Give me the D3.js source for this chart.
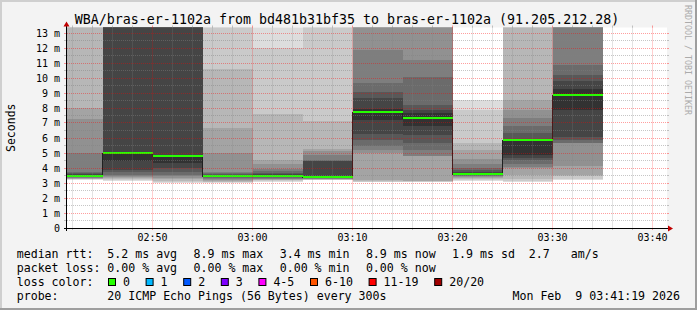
<!DOCTYPE html>
<html>
<head>
<meta charset="utf-8">
<script src="https://cdn.jsdelivr.net/npm/d3@7"></script>
<style>
  html, body { margin: 0; padding: 0; background: #f3f3f3; }
  svg { display: block; }
  text { font-family: "DejaVu Sans Mono", monospace; fill: #000; }
</style>
</head>
<body>
<svg id="chart" width="697" height="310"></svg>
<script>
var title = 'WBA/bras-er-1102a from bd481b31bf35 to bras-er-1102a (91.205.212.28)';
var yLabel = 'Seconds';
var watermark = 'RRDTOOL / TOBI OETIKER';

// end of each 300s step (HH:MM, Feb 9 2026)
var times = ['02:45', '02:50', '02:55', '03:00', '03:05', '03:10', '03:15', '03:20', '03:25', '03:30', '03:35'];
// median rtt per step, ms
var medians = [3.49, 5.00, 4.82, 3.49, 3.49, 3.42, 7.75, 7.33, 3.60, 5.84, 8.89];
// the 20 sorted ping rtts per step, ms (values above the top are cut off)
var pings = [
  [3.20, 3.24, 3.27, 3.30, 3.32, 3.35, 3.38, 3.40, 3.42, 3.45, 3.55, 3.60, 3.65, 3.73, 5.00, 7.29, 8.00, 14.2, 16.5, 19.8],
  [3.12, 3.20, 3.25, 3.35, 3.40, 3.45, 3.55, 3.75, 3.90, 4.45, 5.05, 14.5, 15.3, 16.1, 17.0, 18.2, 19.5, 21.0, 23.4, 26.8],
  [2.98, 3.05, 3.15, 3.25, 3.35, 3.45, 3.55, 3.75, 4.00, 4.33, 4.87, 14.1, 14.9, 15.8, 16.7, 17.9, 19.2, 20.6, 22.5, 25.1],
  [2.98, 3.04, 3.10, 3.16, 3.22, 3.28, 3.33, 3.38, 3.42, 3.45, 3.52, 3.56, 3.62, 3.68, 3.75, 5.00, 6.70, 10.6, 14.3, 17.5],
  [3.10, 3.14, 3.18, 3.22, 3.26, 3.30, 3.34, 3.38, 3.42, 3.47, 3.53, 3.60, 3.70, 3.80, 3.95, 4.25, 4.55, 7.60, 12.0, 15.2],
  [3.18, 3.21, 3.23, 3.25, 3.27, 3.29, 3.31, 3.33, 3.35, 3.38, 3.50, 4.45, 4.50, 4.53, 4.87, 5.15, 5.30, 7.15, 14.0, 16.8],
  [3.05, 3.10, 3.15, 3.22, 5.00, 5.20, 5.45, 5.89, 6.27, 7.22, 7.95, 8.65, 9.10, 9.64, 11.9, 13.6, 14.5, 15.8, 17.4, 20.1],
  [3.05, 3.08, 3.12, 3.15, 4.80, 4.82, 5.20, 5.67, 6.22, 6.78, 7.70, 7.90, 8.22, 10.05, 11.2, 13.8, 15.0, 16.3, 18.1, 21.0],
  [3.12, 3.20, 3.28, 3.35, 3.40, 3.44, 3.48, 3.52, 3.55, 3.57, 3.65, 3.72, 3.85, 4.00, 4.30, 4.60, 5.17, 5.66, 7.88, 8.55],
  [3.05, 3.15, 3.30, 3.53, 3.98, 4.05, 4.30, 4.55, 4.64, 4.87, 5.88, 5.93, 6.31, 6.80, 7.31, 7.87, 8.53, 14.6, 16.2, 18.9],
  [3.22, 3.29, 3.45, 3.56, 4.11, 5.67, 5.70, 5.85, 6.05, 7.90, 9.30, 9.78, 10.2, 10.89, 13.9, 14.8, 15.9, 17.3, 19.0, 22.4]
];

var yTicks = [0, 1, 2, 3, 4, 5, 6, 7, 8, 9, 10, 11, 12, 13];
var yTickLabels = ['0', '1 m', '2 m', '3 m', '4 m', '5 m', '6 m', '7 m', '8 m', '9 m', '10 m', '11 m', '12 m', '13 m'];
var xTickLabels = ['02:50', '03:00', '03:10', '03:20', '03:30', '03:40'];

var lossLabels = ['0', '1', '2', '3', '4-5', '6-10', '11-19', '20/20'];
var lossColors = ['#26ff00', '#00b8ff', '#0059ff', '#7e00ff', '#ff00ff', '#ff5500', '#ff0000', '#a00000'];

var rttStats = ['5.2 ms avg', '8.9 ms max', '3.4 ms min', '8.9 ms now', '1.9 ms sd  2.7   am/s'];
var lossStats = ['0.00 % avg', '0.00 % max', '0.00 % min', '0.00 % now'];
var probeText = '20 ICMP Echo Pings (56 Bytes) every 300s';
var stamp = 'Mon Feb  9 03:41:19 2026';

var day = '2026-02-09 ';
var parse = d3.timeParse('%Y-%m-%d %H:%M:%S');
var start = parse(day + '02:41:26'),
    end = parse(day + '03:41:26');
var step = 300;

var W = 697, H = 310;
var L = 67, R = 667, T = 27.5, B = 228;

var svg = d3.select('#chart');

// frame
svg.append('rect').attr('width', W).attr('height', H).attr('fill', '#f3f3f3');
svg.append('path').attr('d', 'M1,' + H + 'V1H' + W).attr('fill', 'none')
  .attr('stroke', '#cfcfcf').attr('stroke-width', 2);
svg.append('path').attr('d', 'M0,' + (H - 1) + 'H' + (W - 1) + 'V0').attr('fill', 'none')
  .attr('stroke', '#9e9e9e').attr('stroke-width', 2);

var x = d3.scaleTime().domain([start, end]).range([L, R]);
var y = d3.scaleLinear().domain([0, (B - T) / 15]).range([B, T]);

svg.append('defs').append('clipPath').attr('id', 'plot')
  .append('rect').attr('x', L).attr('y', T).attr('width', R - L).attr('height', B - T);

svg.append('rect').attr('x', L).attr('y', T).attr('width', R - L).attr('height', B - T)
  .attr('fill', '#fff');

// smoke: layer k spans ping k .. ping 21-k, inner layers darker
var layers = [];
pings.forEach(function(p, i) {
  var t1 = parse(day + times[i] + ':00'),
      t0 = new Date(+t1 - step * 1000);
  for (var k = 1; k <= 10; k++) {
    var g = Math.floor(190 / 10 * (10 - k)) + 50;
    layers.push({t0: t0, t1: t1, lo: p[k - 1], hi: p[20 - k], grey: g});
  }
});

var plot = svg.append('g').attr('clip-path', 'url(#plot)');

plot.selectAll('rect.smoke')
  .data(layers)
  .enter().append('rect')
    .attr('class', 'smoke')
    .attr('shape-rendering', 'crispEdges')
    .attr('x', function(d) { return x(d.t0); })
    .attr('width', function(d) { return x(d.t1) - x(d.t0); })
    .attr('y', function(d) { return y(d.hi); })
    .attr('height', function(d) { return y(d.lo) - y(d.hi); })
    .attr('fill', function(d) { return d3.rgb(d.grey, d.grey, d.grey); });

// median: dark step line, then the loss colored band
var medPts = [];
medians.forEach(function(m, i) {
  var t1 = parse(day + times[i] + ':00');
  medPts.push([new Date(+t1 - step * 1000), m], [t1, m]);
});

plot.append('path')
  .datum(medPts)
  .attr('fill', 'none')
  .attr('stroke', '#202020')
  .attr('stroke-width', 1)
  .attr('shape-rendering', 'crispEdges')
  .attr('d', d3.line().x(function(d) { return Math.round(x(d[0])) - 0.5; })
                      .y(function(d) { return Math.round(y(d[1])) + 0.5; }));

plot.selectAll('rect.med')
  .data(medians)
  .enter().append('rect')
    .attr('class', 'med')
    .attr('shape-rendering', 'crispEdges')
    .attr('x', function(d, i) { return x(new Date(+parse(day + times[i] + ':00') - step * 1000)); })
    .attr('width', function(d, i) { return x(parse(day + times[i] + ':00')) - x(new Date(+parse(day + times[i] + ':00') - step * 1000)); })
    .attr('y', function(d) { return Math.round(y(d)) - 1; })
    .attr('height', 2)
    .attr('fill', lossColors[0]);

// grid
var grid = svg.append('g');
var minorCol = 'rgba(128,128,128,0.45)', majorCol = 'rgba(255,0,0,0.38)';

var xMinor = x.ticks(d3.timeMinute.every(2)).filter(function(t) { return t.getMinutes() % 10; });
var xMajor = x.ticks(d3.timeMinute.every(10));
var yMinor = d3.range(0.5, y.domain()[1], 1);

function vline(t, col) {
  var px = Math.floor(x(t)) + 0.5;
  grid.append('line').attr('x1', px).attr('x2', px).attr('y1', T).attr('y2', B)
    .attr('stroke', col).attr('stroke-dasharray', '1,1');
  grid.append('line').attr('x1', px).attr('x2', px).attr('y1', B).attr('y2', B + 2).attr('stroke', col);
  grid.append('line').attr('x1', px).attr('x2', px).attr('y1', T - 2).attr('y2', T).attr('stroke', col);
}
function hline(v, col) {
  var py = Math.floor(y(v)) + 0.5;
  grid.append('line').attr('x1', L).attr('x2', R).attr('y1', py).attr('y2', py)
    .attr('stroke', col).attr('stroke-dasharray', '1,1');
  grid.append('line').attr('x1', L - 3).attr('x2', L).attr('y1', py).attr('y2', py).attr('stroke', col);
  grid.append('line').attr('x1', R).attr('x2', R + 2).attr('y1', py).attr('y2', py).attr('stroke', col);
}
xMinor.forEach(function(t) { vline(t, minorCol); });
yMinor.forEach(function(v) { hline(v, minorCol); });
xMajor.forEach(function(t) { vline(t, majorCol); });
yTicks.forEach(function(v) { if (v > 0) hline(v, majorCol); });

// axes
svg.append('line').attr('x1', L - 3).attr('x2', R + 3).attr('y1', B + 0.5).attr('y2', B + 0.5)
  .attr('stroke', '#000');
svg.append('line').attr('x1', L - 0.5).attr('x2', L - 0.5).attr('y1', B + 3).attr('y2', T - 2)
  .attr('stroke', '#000');
svg.append('path').attr('d', 'M' + (R + 1) + ',' + (B - 2.5) + 'L' + (R + 6) + ',' + (B + 0.5) + 'L' + (R + 1) + ',' + (B + 3.5) + 'Z')
  .attr('fill', '#c00000');
svg.append('path').attr('d', 'M' + (L - 3.5) + ',' + (T - 1) + 'L' + (L - 0.5) + ',' + (T - 6) + 'L' + (L + 2.5) + ',' + (T - 1) + 'Z')
  .attr('fill', '#c00000');

// tick labels
svg.append('g').selectAll('text')
  .data(xTickLabels)
  .enter().append('text')
    .attr('x', function(d) { return Math.floor(x(parse(day + d + ':00'))) + 0.5; })
    .attr('y', 241)
    .attr('text-anchor', 'middle')
    .style('font-size', '10px')
    .text(function(d) { return d; });

svg.append('g').selectAll('text')
  .data(yTicks)
  .enter().append('text')
    .attr('x', 60)
    .attr('y', function(d) { return Math.floor(y(d)) + 4; })
    .attr('text-anchor', 'end')
    .style('font-size', '10px')
    .text(function(d, i) { return yTickLabels[i]; });

// title, axis label, watermark
svg.append('text').attr('x', 347).attr('y', 24).attr('text-anchor', 'middle')
  .style('font-size', '13.3px').text(title);
svg.append('text').attr('transform', 'translate(15,' + ((T + B) / 2) + ') rotate(-90)')
  .attr('text-anchor', 'middle').style('font-size', '11.5px').text(yLabel);
svg.append('text').attr('transform', 'translate(685,5) rotate(90)')
  .style('font-size', '8.3px').style('fill', '#ababab').text(watermark);

// legend
var lf = '11.6px', cw = 7;
var rows = [258, 272, 286, 300];
function ltext(px, py, s, anchor) {
  return svg.append('text').attr('x', px).attr('y', py).attr('xml:space', 'preserve')
    .attr('text-anchor', anchor || 'start').style('font-size', lf).text(s);
}
ltext(16.7, rows[0], 'median rtt:');
rttStats.forEach(function(s, i) { ltext(107.3 + i * 86.2, rows[0], s); });
ltext(16.7, rows[1], 'packet loss:');
lossStats.forEach(function(s, i) { ltext(107.3 + i * 86.2, rows[1], s); });
ltext(16.7, rows[2], 'loss color:');
var bx = 108;
lossLabels.forEach(function(s, i) {
  svg.append('rect').attr('x', bx + 0.5).attr('y', rows[2] - 7.5).attr('width', 7).attr('height', 7)
    .attr('fill', lossColors[i]).attr('stroke', '#000');
  ltext(bx + 15, rows[2], s);
  bx += 15 + s.length * cw + 15.6;
});
ltext(16.7, rows[3], 'probe:');
ltext(107.3, rows[3], probeText);
ltext(680, rows[3], stamp, 'end');
</script>
</body>
</html>
